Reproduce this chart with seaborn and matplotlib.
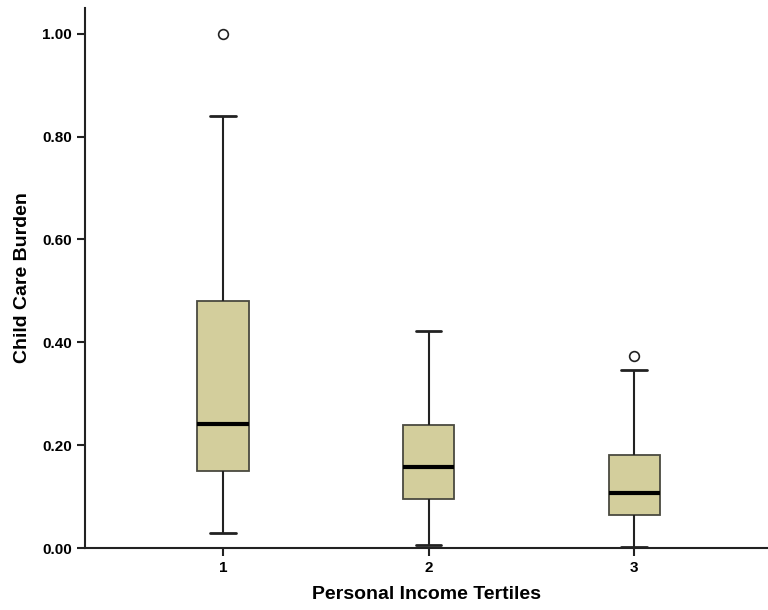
import pandas as pd
import seaborn as sns
import matplotlib.pyplot as plt
from matplotlib.ticker import FormatStrFormatter

# Values (min, quartiles, max, outliers)
tertile_1 = [0.029, 0.10, 0.150, 0.20, 0.241, 0.35, 0.480, 0.840, 1.000]
tertile_2 = [0.006, 0.06, 0.095, 0.13, 0.158, 0.20, 0.239, 0.30, 0.422]
tertile_3 = [0.002, 0.04, 0.064, 0.09, 0.107, 0.15, 0.181, 0.346, 0.374]
tertile_labels = ['1', '2', '3']

df = pd.DataFrame({
    'tertile': [tertile_labels[0]] * len(tertile_1)
    + [tertile_labels[1]] * len(tertile_2)
    + [tertile_labels[2]] * len(tertile_3),
    'burden': tertile_1 + tertile_2 + tertile_3,
})

sns.set_style('white')
plt.rcParams['font.family'] = ['Liberation Sans', 'DejaVu Sans']
plt.rcParams['text.color'] = 'black'
plt.rcParams['axes.labelcolor'] = 'black'
plt.rcParams['xtick.color'] = 'black'
plt.rcParams['ytick.color'] = 'black'

fig = plt.figure(figsize=(7.68, 6.10), dpi=100)
ax = fig.add_axes([85 / 768, 62 / 610, 1 - 85 / 768, 540 / 610])

line_col = '#222222'
sns.boxplot(
    data=df, x='tertile', y='burden', order=tertile_labels,
    color='#d3ce9c', saturation=1, width=0.25, whis=1.5, ax=ax,
    boxprops=dict(edgecolor='#4a4a40', linewidth=1.3),
    whiskerprops=dict(color=line_col, linewidth=1.5),
    capprops=dict(color=line_col, linewidth=2),
    medianprops=dict(color='black', linewidth=3),
    flierprops=dict(marker='o', markersize=7, markerfacecolor='white',
                    markeredgecolor=line_col, markeredgewidth=1.2),
)

ax.set_xlim(-0.67, 2.65)
ax.set_ylim(0, 1.05)
ax.set_yticks([0, 0.2, 0.4, 0.6, 0.8, 1.0])
ax.yaxis.set_major_formatter(FormatStrFormatter('%.2f'))

for side in ['top', 'right']:
    ax.spines[side].set_visible(False)
for side in ['left', 'bottom']:
    ax.spines[side].set_color(line_col)
    ax.spines[side].set_linewidth(1.5)

ax.tick_params(axis='both', direction='out', length=6, width=1.5,
               color=line_col, labelsize=11, left=True, bottom=True)
for lbl in ax.get_xticklabels() + ax.get_yticklabels():
    lbl.set_fontweight('bold')

ax.set_xlabel('Personal Income Tertiles', fontsize=14, fontweight='bold', labelpad=8)
ax.set_ylabel('Child Care Burden', fontsize=14, fontweight='bold', labelpad=8)

fig.savefig('out.png', dpi=100)
